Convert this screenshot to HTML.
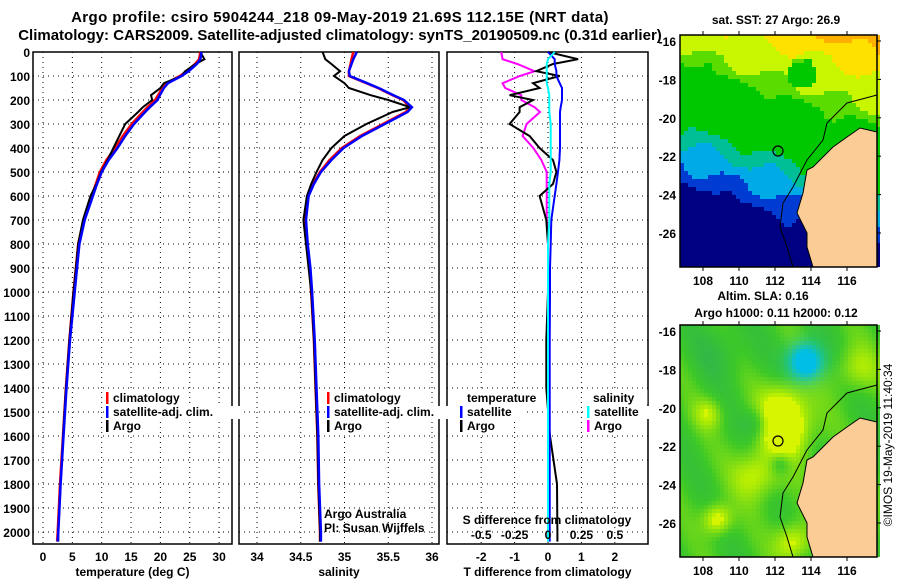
<!DOCTYPE html>
<html><head><meta charset="utf-8"><style>
body{margin:0;background:#fff;}
svg{display:block;font-family:"Liberation Sans",sans-serif;}
.b{font-weight:bold;font-size:15px;}
.t{font-weight:bold;font-size:12px;}
</style></head><body>
<svg id="c" width="900" height="580" xmlns="http://www.w3.org/2000/svg">
<text class="b" x="340" y="22" text-anchor="middle" font-size="14.5" letter-spacing="0.4">Argo profile: csiro 5904244_218 09-May-2019 21.69S 112.15E (NRT data)</text>
<text class="b" x="340" y="40" text-anchor="middle" font-size="14.5">Climatology: CARS2009. Satellite-adjusted climatology: synTS_20190509.nc (0.31d earlier)</text>
</svg>
<script>
// ---- data ----
const depths=[0,30,50,80,100,130,150,180,200,230,250,300,350,400,450,500,550,600,700,800,900,1000,1200,1400,1600,1800,2000,2040];
const tempClim=[26.8,26.6,25.9,24.5,23.3,21.0,20.3,19.6,19.1,17.8,17.0,15.1,13.6,12.3,10.8,9.7,9.0,8.3,6.9,6.0,5.6,5.2,4.5,3.9,3.4,2.9,2.5,2.4];
const tempSat=[27.0,26.8,26.2,24.8,23.6,21.3,20.6,19.9,19.5,18.2,17.4,15.5,14.0,12.7,11.2,10.0,9.2,8.5,7.1,6.2,5.8,5.4,4.6,4.0,3.5,3.0,2.6,2.5];
const tempArgo=[26.8,27.5,26.0,24.2,23.6,20.6,20.0,18.4,18.6,17.0,16.2,14.0,13.0,12.0,11.0,9.9,9.1,8.1,6.8,6.0,5.6,5.2,4.5,3.9,3.4,3.0,2.6,2.6];
const salClim=[35.10,35.08,35.07,35.05,35.05,35.25,35.38,35.55,35.67,35.75,35.70,35.44,35.18,34.97,34.83,34.72,34.64,34.58,34.55,34.57,34.60,34.62,34.65,34.67,34.69,34.70,34.72,34.72];
const salSat=[35.14,35.10,35.08,35.05,35.06,35.26,35.39,35.56,35.68,35.77,35.72,35.46,35.20,34.99,34.85,34.73,34.65,34.59,34.56,34.58,34.61,34.63,34.66,34.68,34.70,34.71,34.73,34.73];
const salArgo=[34.75,34.78,34.85,34.95,34.88,35.0,35.05,35.3,35.5,35.75,35.55,35.25,35.0,34.85,34.75,34.68,34.62,34.57,34.53,34.56,34.59,34.62,34.65,34.67,34.69,34.70,34.72,34.72];
const tDiffArgo=[0,0.9,0.15,-0.35,0.35,-0.45,-0.25,-1.15,-0.45,-0.85,-0.85,-1.15,-0.55,-0.25,0.15,0.25,0.15,-0.25,-0.05,0,0,0,-0.05,-0.05,0.06,0.27,0.28,0.28];
const tDiffSat=[0,0.2,0.2,0.25,0.25,0.35,0.42,0.42,0.42,0.38,0.36,0.36,0.36,0.36,0.34,0.3,0.25,0.2,0.1,0.08,0.06,0.06,0.05,0.05,0.05,0.05,0.05,0.05];
const sDiffArgo=[-0.35,-0.34,-0.23,-0.1,-0.21,-0.34,-0.32,-0.2,-0.2,-0.1,-0.06,-0.16,-0.19,-0.11,-0.05,-0.01,-0.01,-0.01,-0.01,0,0,0,0,0,0,0,0,0];
const sDiffSat=[0.05,0.0,-0.01,-0.01,-0.01,-0.01,0,0.01,0.01,0.01,0.01,0.02,0.02,0.02,0.02,0.02,0.01,0.01,0.01,0,0,0,0,0,0,0,0,0];
const depthTicks=[0,100,200,300,400,500,600,700,800,900,1000,1100,1200,1300,1400,1500,1600,1700,1800,1900,2000];
const tempTicks=[0,5,10,15,20,25,30];
const salTicks=[34,34.5,35,35.5,36];
const tdTicks=[-2,-1,0,1,2];
const sdTickLabels=["-0.5","-0.25","0","0.25","0.5"];
const lonTicks=[108,110,112,114,116];
const latTicks=[-16,-18,-20,-22,-24,-26];

const NS="http://www.w3.org/2000/svg";
const svg=document.getElementById('c');
function el(tag,attrs,parent){const e=document.createElementNS(NS,tag);for(const k in attrs)e.setAttribute(k,attrs[k]);(parent||svg).appendChild(e);return e;}
function txt(s,x,y,cls,anchor,parent){const e=el('text',{x:x,y:y,'class':cls||'t','text-anchor':anchor||'middle'},parent);e.textContent=s;return e;}
const yD=d=>52+d*0.24;
const yTop=52,yBot=544;

function panel(name,x0,x1,xs,ticks,tickLbl,title){
  const g=el('g',{});
  
  
  depthTicks.forEach(d=>{const l=el('line',{x1:x0,x2:x1,y1:yD(d),y2:yD(d),stroke:'#000','stroke-dasharray':'1,4','stroke-width':1},g);
    
    });
  ticks.forEach((t,i)=>{const x=xs(t);const l=el('line',{x1:x,x2:x,y1:yTop,y2:yBot,stroke:'#000','stroke-dasharray':'1,4'},g);
    
    
    if(tickLbl){const tl=txt(tickLbl[i],x,561,'t','middle',g);
    
    }});
  const r=el('rect',{x:x0,y:yTop,width:x1-x0,height:yBot-yTop,fill:'none',stroke:'#000','stroke-width':1.5},g);
  
  
  const at=txt(title,(x0+x1)/2,576,'t','middle',g);
  
  
  return g;
}
function series(g,name,vals,xs,color,w){
  const pts=vals.map((v,i)=>xs(v).toFixed(1)+','+yD(depths[i]).toFixed(1)).join(' ');
  const p=el('polyline',{points:pts,fill:'none',stroke:color,'stroke-width':w||2},g);
  
  
}
depthTicks.forEach(d=>{const t=txt(String(d),30,yD(d)+5,'t','end');
  
  });

const xT=v=>43+v*5.87;
const g1=panel('temperature-panel',33,232,xT,tempTicks,tempTicks.map(String),'temperature (deg C)');
series(g1,'temp-climatology',tempClim,xT,'#f00',2.5);
series(g1,'temp-argo',tempArgo,xT,'#000',2);
series(g1,'temp-satellite',tempSat,xT,'#00f',2.5);
const xS=v=>257+(v-34)*87.5;
const g2=panel('salinity-panel',239,439,xS,salTicks,salTicks.map(String),'salinity');
series(g2,'sal-climatology',salClim,xS,'#f00',2.5);
series(g2,'sal-argo',salArgo,xS,'#000',2);
series(g2,'sal-satellite',salSat,xS,'#00f',2.5);
txt('Argo Australia',324,518,'','start',g2).setAttribute('font-size','11');
txt('PI: Susan Wijffels',324,532,'','start',g2).setAttribute('font-size','11');
const xD=v=>548+v*33.4;
const xSD=v=>548+v*4*33.4;
const g3=panel('difference-panel',447,648,xD,tdTicks,tdTicks.map(String),'T difference from climatology');
series(g3,'sdiff-argo',sDiffArgo,xSD,'#f0f',2);
series(g3,'tdiff-argo',tDiffArgo,xD,'#000',2);
series(g3,'tdiff-satellite',tDiffSat,xD,'#00f',2);
series(g3,'sdiff-satellite',sDiffSat,xSD,'#0ff',2);
const sdt=txt('S difference from climatology',547,524,'t','middle',g3);


tdTicks.forEach((t,i)=>{const l=txt(sdTickLabels[i],xD(t),539,'t','middle',g3);
  
  });

function legend(x,y,items,name,header,hx){
  const g=el('g',{});
  
  
  if(header){el('rect',{x:hx-2,y:y-12,width:header.length*6.8+2,height:14,fill:'#fff'},g);txt(header,hx,y,'t','start',g);y+=14;}
  items.forEach(([lab,col])=>{
    el('rect',{x:x,y:y-10,width:lab.length*6.3+10,height:13,fill:'#fff'},g);
    el('rect',{x:x+1,y:y-10,width:2.5,height:12,fill:col},g);
    txt(lab,x+8,y,'t','start',g);y+=14;});
}
legend(105,402,[['climatology','#f00'],['satellite-adj. clim.','#00f'],['Argo','#000']],'temp-legend');
legend(326,402,[['climatology','#f00'],['satellite-adj. clim.','#00f'],['Argo','#000']],'sal-legend');
legend(459,402,[['satellite','#00f'],['Argo','#000']],'tdiff-legend','temperature',467);
legend(586,402,[['satellite','#0ff'],['Argo','#f0f']],'sdiff-legend','salinity',593);

const L=680,R=877;
const lonX=lon=>703+(lon-108)*18;
const coast=[[877,132],[860,128],[847,137],[833,147],[820,160],[813,167],[807,170],[803,193],[800,203],[797,213],[807,233],[807,247],[813,267]];
const shelf=[[877,95],[847,103],[827,123],[823,140],[807,160],[793,187],[783,203],[780,227],[787,247],[793,267]];
function hex(c){return 'rgb('+c.map(Math.round).join(',')+')';}
function mix(a,b,t){return a.map((v,i)=>v+(b[i]-v)*t);}
function sstColor(lon,lat){
  let v=(lat+27)*0.4+(lon-108)*0.12-0.3+0.12*Math.sin(lon*2.1+lat*1.3)+0.1*Math.cos(lat*2.7-lon);
  if(Math.hypot(lon-113.5,lat+17.7)<0.8)v-=0.8;
  const stops=[[1.0,[0,0,130]],[1.4,[0,60,210]],[1.8,[0,170,230]],[2.2,[0,190,150]],[3.5,[0,200,0]],[3.8,[90,220,0]],[4.5,[200,245,0]],[5.0,[255,225,0]],[99,[255,175,0]]];
  for(const s of stops)if(v<s[0])return s[1];
}
function slaColor(lon,lat){
  let v=0.35+0.1*Math.sin(lon*1.7+lat*0.9);
  const bumps=[[112.6,-21.2,0.55,1.5],[111,-23.5,0.4,1.3],[108.8,-25.8,0.5,0.8],[113,-27,0.45,1],[112.5,-19.8,0.35,1.3],[108.3,-20.3,0.3,0.8],[116.5,-18,0.3,1.2],[111,-20.8,-0.25,0.8],[109,-17,-0.15,1.5],[112.3,-22.9,-0.3,0.6]];
  bumps.forEach(([x,y,a,r])=>{v+=a*Math.exp(-((lon-x)**2+(lat-y)**2)/(r*r));});
  const c=Math.exp(-((lon-113.7)**2+(lat+17.6)**2)/0.9);
  let col=v<0.35?mix([40,175,90],[60,200,40],Math.max(0,v)/0.35):v<0.7?mix([60,200,40],[190,240,0],(v-0.35)/0.35):[215,245,0];
  return mix(col,[0,190,230],Math.min(1,c*1.4));
}
function map(name,off,colorFn,title,ts){
  const g=el('g',{});
  
  
  const T=35+off,B=267+off;
  for(let y=T;y<B;y+=4)for(let x=L;x<R;x+=4){
    const lon=108+(x+2-703)/18, lat=-16-(y+2-off-41)/19.2;
    el('rect',{x:x,y:y,width:4,height:Math.min(4,B-y),fill:hex(colorFn(lon,lat))},g);}
  const land=coast.map(p=>p[0]+','+(p[1]+off)).join(' ')+' '+R+','+B;
  el('polygon',{points:land,fill:'#fccc96',stroke:'#000','stroke-width':1},g);
  el('polyline',{points:shelf.map(p=>p[0]+','+(p[1]+off)).join(' '),fill:'none',stroke:'#000','stroke-width':1},g);
  const ci=el('circle',{cx:778,cy:151+off,r:5,fill:'none',stroke:'#000','stroke-width':1.2},g);
  
  
  el('rect',{x:L,y:T,width:R-L,height:B-T,fill:'none',stroke:'#000','stroke-width':1.5},g);
  lonTicks.forEach(l=>{const x=lonX(l);el('line',{x1:x,x2:x,y1:B,y2:B+4,stroke:'#000'},g);el('line',{x1:x,x2:x,y1:T,y2:T-4,stroke:'#000'},g);
    const t=txt(String(l),x,B+18,'t','middle',g);
    
    });
  latTicks.forEach(l=>{const y=41+(-16-l)*19.2+off;el('line',{x1:R,x2:R+4,y1:y,y2:y,stroke:'#000'},g);
    const t=txt(String(l),676,y+5,'t','end',g);
    
    });
  title.forEach((s,i)=>{const t=txt(s,ts[i][0],ts[i][1],'t','middle',g);
    
    });
}
map('sst-map',0,sstColor,['sat. SST: 27 Argo: 26.9'],[[776,24]]);
map('sla-map',290,slaColor,['Altim. SLA: 0.16','Argo h1000: 0.11 h2000: 0.12'],[[763,300],[776,317]]);
const cr=el('text',{x:0,y:0,'font-size':'12','text-anchor':'middle',transform:'translate(892,445) rotate(-90)'});
cr.textContent='©IMOS 19-May-2019 11:40:34';


</script>
</body></html>
